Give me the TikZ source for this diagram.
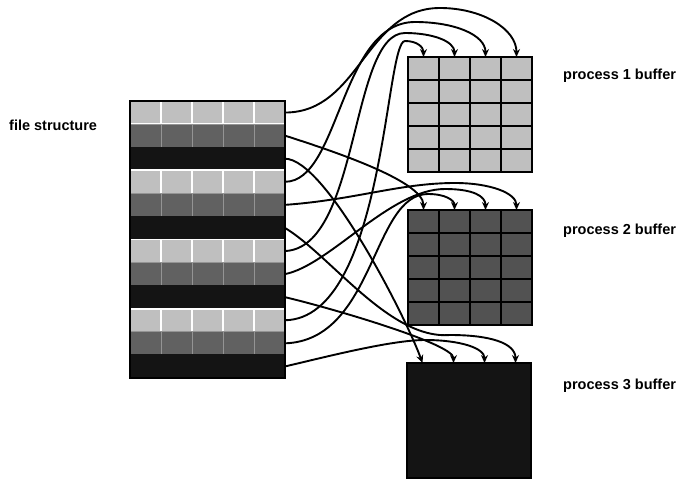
\documentclass[tikz,border=0pt]{standalone}
\usepackage{fontspec}
\setmainfont{Liberation Sans}
\usetikzlibrary{arrows.meta}
\begin{document}
\begin{tikzpicture}[x=1pt,y=1pt,
  fcell/.style={rectangle, minimum width=31pt, minimum height=23.08pt, inner sep=0pt, outer sep=0pt},
  bcell/.style={rectangle, minimum width=31pt, minimum height=23pt, inner sep=0pt, outer sep=0pt, draw=black, line width=1.8pt},
  conn/.style={line width=1.9pt, -{Stealth[length=8pt,width=7pt]}},
  lbl/.style={font=\bfseries\fontsize{14.5}{16}\selectfont, anchor=west, inner sep=0pt}
]
\fill[white] (0,0) rectangle (684,-481);
\useasboundingbox (0,0) rectangle (684,-481);

% file structure
\foreach \i in {1,...,12}{
  \pgfmathtruncatemacro{\shd}{mod(\i-1,3)}
  \ifcase\shd
    \def\myfill{black!25}\def\mydraw{white}\def\mylw{1.6pt}
  \or
    \def\myfill{black!62}\def\mydraw{black!42}\def\mylw{1pt}
  \or
    \def\myfill{black!92}\def\mydraw{black!92}\def\mylw{1pt}
  \fi
  \foreach \j in {1,...,5}{
    \node[fcell, fill=\myfill, draw=\mydraw, line width=\mylw] (f\i-\j) at ({130+31*(\j-0.5)},{-101-23.08*(\i-0.5)}) {};
  }
}
\draw[line width=2pt] (f1-1.north west) rectangle (f12-5.south east);

% buffers
\foreach \r in {1,...,5}{
  \foreach \c in {1,...,4}{
    \node[bcell, fill=black!25] (a\r-\c) at ({408+31*(\c-0.5)},{-57-23*(\r-0.5)}) {};
    \node[bcell, fill=black!68] (b\r-\c) at ({408+31*(\c-0.5)},{-210-23*(\r-0.5)}) {};
    \node[bcell, fill=black!92, draw=black!92] (c\r-\c) at ({407+31*(\c-0.5)},{-363-23*(\r-0.5)}) {};
  }
}
\draw[line width=2.2pt] (a1-1.north west) rectangle (a5-4.south east);
\draw[line width=2.2pt] (b1-1.north west) rectangle (b5-4.south east);
\draw[line width=2.2pt] (c1-1.north west) rectangle (c5-4.south east);

% labels
\node[lbl] (tf) at (9,-125) {file structure};
\node[lbl] (t1) at (563,-76) {process 1 buffer};
\node[lbl] (t2) at (563,-231) {process 2 buffer};
\node[lbl] (t3) at (563,-386) {process 3 buffer};

% process 1 buffer
\draw[conn] (f1-5.east) .. controls +(75,0) and (365,-8) .. (440,-8) .. controls (482,-8) and +(0,28) .. (a1-4.north);
\draw[conn] (f4-5.east) .. controls +(55,0) and (340,-22) .. (415,-22) .. controls (455,-22) and +(0,22) .. (a1-3.north);
\draw[conn] (f7-5.east) .. controls +(75,3) and (350,-33) .. (405,-33) .. controls (432,-33) and +(0,16) .. (a1-2.north);
\draw[conn] (f10-5.east) .. controls +(100,2) and (385,-41) .. (405,-41) .. controls (417,-41) and +(0,10) .. (a1-1.north);

% process 2 buffer
\draw[conn] (f2-5.east) .. controls +(40,-13) and +(0,30) .. (b1-1.north);
\draw[conn] (f5-5.east) .. controls +(70,5) and (400,-183) .. (455,-183) .. controls (490,-183) and +(0,17) .. (b1-4.north);
\draw[conn] (f8-5.east) .. controls +(45,9) and (390,-189) .. (445,-189) .. controls (473,-189) and +(0,14) .. (b1-3.north);
\draw[conn] (f11-5.east) .. controls +(90,3) and (372,-194) .. (428,-194) .. controls (445,-194) and +(0,10) .. (b1-2.north);

% process 3 buffer
\draw[conn] (f3-5.east) .. controls +(40,0) and +(-17.5,48) .. (c1-1.north);
\draw[conn] (f6-5.east) .. controls +(45,-27) and (390,-340) .. (450,-335) .. controls (490,-335) and +(0,20) .. (c1-4.north);
\draw[conn] (f9-5.east) .. controls +(35,-8) and +(0,20) .. (c1-2.north);
\draw[conn] (f12-5.east) .. controls +(35,8) and (390,-340) .. (425,-340) .. controls (460,-340) and +(0,15) .. (c1-3.north);
\end{tikzpicture}
\end{document}
